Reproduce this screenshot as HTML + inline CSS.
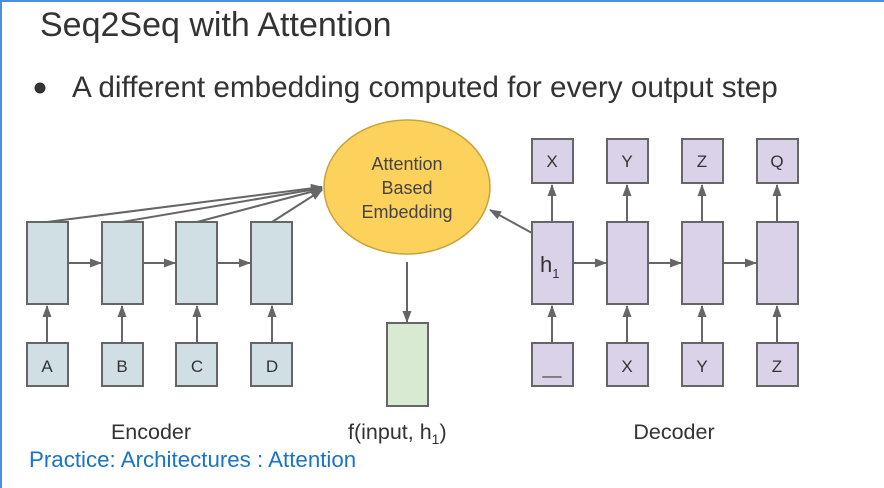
<!DOCTYPE html>
<html><head><meta charset="utf-8"><style>
html,body{margin:0;padding:0;background:#fff}
svg{display:block;font-family:"Liberation Sans",sans-serif}
</style></head><body>
<svg width="884" height="488" viewBox="0 0 884 488" xmlns="http://www.w3.org/2000/svg">
<defs><marker id="a" markerWidth="12" markerHeight="12" refX="11" refY="6" orient="auto" markerUnits="userSpaceOnUse"><path d="M0,1.5 L12,6 L0,10.5 z" fill="#666"/></marker></defs>
<rect x="0" y="0" width="884" height="488" fill="#fff"/>
<line x1="0" y1="1" x2="884" y2="1" stroke="#4a8fd8" stroke-width="2"/>
<line x1="1" y1="0" x2="1" y2="488" stroke="#4a8fd8" stroke-width="2"/>
<text x="40" y="36" font-size="34" fill="#333">Seq2Seq with Attention</text>
<circle cx="40" cy="88" r="5.5" fill="#333"/>
<text x="72" y="97" font-size="29.7" fill="#333">A different embedding computed for every output step</text>
<g stroke="#666" stroke-width="2" fill="none" marker-end="url(#a)">
<line x1="47" y1="222" x2="322" y2="187"/>
<line x1="122" y1="222" x2="322" y2="188"/>
<line x1="197" y1="222" x2="322" y2="189"/>
<line x1="272" y1="222" x2="322" y2="190"/>
<line x1="68" y1="263" x2="101" y2="263"/>
<line x1="143" y1="263" x2="175" y2="263"/>
<line x1="217" y1="263" x2="250" y2="263"/>
<line x1="47" y1="343" x2="47" y2="306"/>
<line x1="122" y1="343" x2="122" y2="306"/>
<line x1="197" y1="343" x2="197" y2="306"/>
<line x1="272" y1="343" x2="272" y2="306"/>
<line x1="407" y1="262" x2="407" y2="322"/>
<line x1="532" y1="233" x2="490" y2="210"/>
<line x1="573" y1="263" x2="606" y2="263"/>
<line x1="648" y1="263" x2="681" y2="263"/>
<line x1="723" y1="263" x2="756" y2="263"/>
<line x1="552" y1="343" x2="552" y2="306"/>
<line x1="627" y1="343" x2="627" y2="306"/>
<line x1="702" y1="343" x2="702" y2="306"/>
<line x1="777" y1="343" x2="777" y2="306"/>
<line x1="552" y1="222" x2="552" y2="185"/>
<line x1="627" y1="222" x2="627" y2="185"/>
<line x1="702" y1="222" x2="702" y2="185"/>
<line x1="777" y1="222" x2="777" y2="185"/>
</g>
<g stroke="#666" stroke-width="2" fill="#d0dfe3">
<rect x="27" y="222" width="41" height="82"/><rect x="102" y="222" width="41" height="82"/>
<rect x="176" y="222" width="41" height="82"/><rect x="251" y="222" width="41" height="82"/>
<rect x="27" y="343" width="41" height="43"/><rect x="102" y="343" width="41" height="43"/>
<rect x="176" y="343" width="41" height="43"/><rect x="251" y="343" width="41" height="43"/>
</g>
<g stroke="#666" stroke-width="2" fill="#d9d2e9">
<rect x="532" y="222" width="41" height="82"/><rect x="607" y="222" width="41" height="82"/>
<rect x="682" y="222" width="41" height="82"/><rect x="757" y="222" width="41" height="82"/>
<rect x="532" y="343" width="41" height="43"/><rect x="607" y="343" width="41" height="43"/>
<rect x="682" y="343" width="41" height="43"/><rect x="757" y="343" width="41" height="43"/>
<rect x="532" y="139" width="41" height="44"/><rect x="607" y="139" width="41" height="44"/>
<rect x="682" y="139" width="41" height="44"/><rect x="757" y="139" width="41" height="44"/>
</g>
<rect x="387" y="323" width="41" height="83" fill="#d9ead3" stroke="#666" stroke-width="2"/>
<ellipse cx="407" cy="187" rx="83" ry="67" fill="#fcd25c" stroke="#c9a33a" stroke-width="1.5"/>
<g font-size="18" fill="#444" text-anchor="middle">
<text x="407" y="170">Attention</text><text x="407" y="194">Based</text><text x="407" y="218">Embedding</text>
</g>
<g font-size="17" fill="#333" text-anchor="middle">
<text x="47" y="372">A</text><text x="122" y="372">B</text><text x="197" y="372">C</text><text x="272" y="372">D</text>
<text x="552" y="167">X</text><text x="627" y="167">Y</text><text x="702" y="167">Z</text><text x="777" y="167">Q</text>
<text x="552" y="374">__</text><text x="627" y="372">X</text><text x="702" y="372">Y</text><text x="777" y="372">Z</text>
</g>
<text x="540" y="272" font-size="22" fill="#333">h<tspan font-size="13" dy="6">1</tspan></text>
<g font-size="21.5" fill="#333" text-anchor="middle">
<text x="151" y="439">Encoder</text><text x="674" y="439">Decoder</text>
</g>
<text x="348" y="439" font-size="21.5" fill="#333">f(input, h<tspan font-size="14" dy="5">1</tspan><tspan dy="-5">)</tspan></text>
<text x="29" y="467" font-size="22.3" fill="#1a73c8">Practice: Architectures : Attention</text>
</svg>
</body></html>
